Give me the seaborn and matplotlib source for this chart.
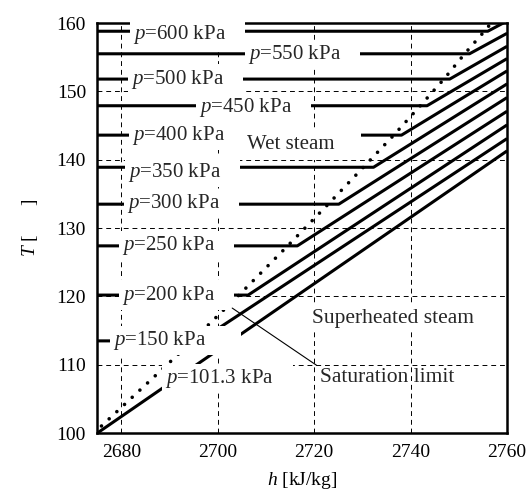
"""
plot.py
=======
Diagram T-h uap air di sekitar garis jenuh: garis tekanan konstan
(horizontal di daerah basah, miring di daerah superheated) + batas jenuh.

Output: out.png (531x490 px)
"""

import matplotlib

matplotlib.use("Agg")  # backend non-interaktif
import matplotlib.pyplot as plt  # noqa: E402
import pandas as pd  # noqa: E402
import seaborn as sns  # noqa: E402

H_MIN, H_MAX = 2675, 2760
T_MIN, T_MAX = 100, 160

# --- Data ---------------------------------------------------------------
PRESSURES = ["600", "550", "500", "450", "400", "350",
             "300", "250", "200", "150", "101.3"]
T_SAT = [158.8, 155.5, 151.8, 147.9, 143.6, 138.9,
         133.5, 127.4, 120.2, 113.5, 100.0]
H_SAT = [2756.0, 2752.2, 2748.1, 2743.4, 2738.1, 2732.3,
         2725.1, 2716.5, 2706.3, 2696.2, 2675.0]
T_END = [160.3, 158.5, 156.6, 154.8, 153.0, 151.1,
         149.1, 147.1, 145.1, 143.1, 141.3]

# garis batas jenuh (titik-titik)
H_DOT = [2674.3, 2691.6, 2704.4, 2714.5, 2722.9, 2730.2,
         2736.5, 2742.0, 2746.9, 2751.2, 2755.3, 2757.3]
T_DOT = [100.0, 111.4, 120.2, 127.4, 133.5, 138.9,
         143.6, 147.9, 151.8, 155.5, 158.8, 160.5]

# posisi label tekanan (tepi kiri teks) + spasi ekor (lebar kotak putih)
LABEL_POS = {
    "600": (2682.5, 158.3), "550": (2706.3, 155.4), "500": (2682.0, 151.8),
    "450": (2696.1, 147.7), "400": (2682.2, 143.6), "350": (2681.4, 138.2),
    "300": (2681.2, 133.6), "250": (2680.2, 127.5), "200": (2680.2, 120.2),
    "150": (2678.3, 113.6), "101.3": (2689.1, 108.0),
}
LABEL_TAIL = {"150": 7}


def build_lines():
    """Susun data garis tekanan konstan dalam format long."""
    rows = []
    for p, ts, hs, te in zip(PRESSURES, T_SAT, H_SAT, T_END):
        rows += [(p, H_MIN, ts), (p, hs, ts), (p, H_MAX, te)]
    return pd.DataFrame(rows, columns=["p", "h", "T"])


def main():
    sns.set_theme(style="white")
    plt.rcParams["font.family"] = ["Liberation Serif", "DejaVu Serif"]
    plt.rcParams["mathtext.fontset"] = "custom"
    plt.rcParams["mathtext.rm"] = "Liberation Serif"
    plt.rcParams["mathtext.it"] = "Liberation Serif:italic"

    fig, ax = plt.subplots(figsize=(5.31, 4.9), dpi=100)
    fig.subplots_adjust(left=0.183, right=0.955, bottom=0.116, top=0.953)

    df = build_lines()
    sns.lineplot(data=df, x="h", y="T", units="p", estimator=None,
                 sort=False, color="black", lw=2.2, legend=False, ax=ax,
                 solid_capstyle="butt")
    sns.lineplot(x=H_DOT, y=T_DOT, sort=False, color="black", lw=2.6,
                 linestyle=(0, (0.01, 2.9)), dash_capstyle="round", ax=ax)

    ax.set_xlim(H_MIN, H_MAX)
    ax.set_ylim(T_MIN, T_MAX)
    ax.set_xticks([2680, 2700, 2720, 2740, 2760])
    ax.set_yticks([100, 110, 120, 130, 140, 150, 160])
    ax.grid(True, color="black", lw=0.7, linestyle=(0, (5, 4)))
    ax.set_axisbelow(True)
    ax.tick_params(length=0, labelsize=14, pad=8, colors="black")
    for sp in ax.spines.values():
        sp.set_linewidth(1.8)
        sp.set_color("black")

    ax.set_xlabel("$h$ [kJ/kg]", fontsize=14, labelpad=6, color="black")
    ax.set_ylabel("$T$ [      ]", fontsize=14, labelpad=12, color="black")

    box = dict(boxstyle="square,pad=0.15", fc="white", ec="none")
    for p in PRESSURES:
        x, y = LABEL_POS[p]
        tail = " " * LABEL_TAIL.get(p, 4)
        ax.text(x, y, f"$p$={p} kPa{tail}", ha="left", va="center",
                fontsize=15, bbox=box, zorder=5)

    ax.text(2706.0, 142.2, "Wet steam    ", ha="left", va="center",
            fontsize=15, bbox=dict(boxstyle="square,pad=0.3", fc="white",
                                   ec="none"), zorder=5)
    ax.text(2719.5, 116.8, "Superheated steam", ha="left", va="center",
            fontsize=15.5, bbox=box, zorder=5)
    ax.annotate("Saturation limit", xy=(2703.0, 118.3),
                xytext=(2721.2, 108.2), ha="left", va="center", fontsize=15.5,
                arrowprops=dict(arrowstyle="-", lw=0.8, color="black",
                                relpos=(0, 1), shrinkA=0, shrinkB=0),
                zorder=5)

    fig.savefig("out.png", dpi=100)
    plt.close(fig)


if __name__ == "__main__":
    main()
